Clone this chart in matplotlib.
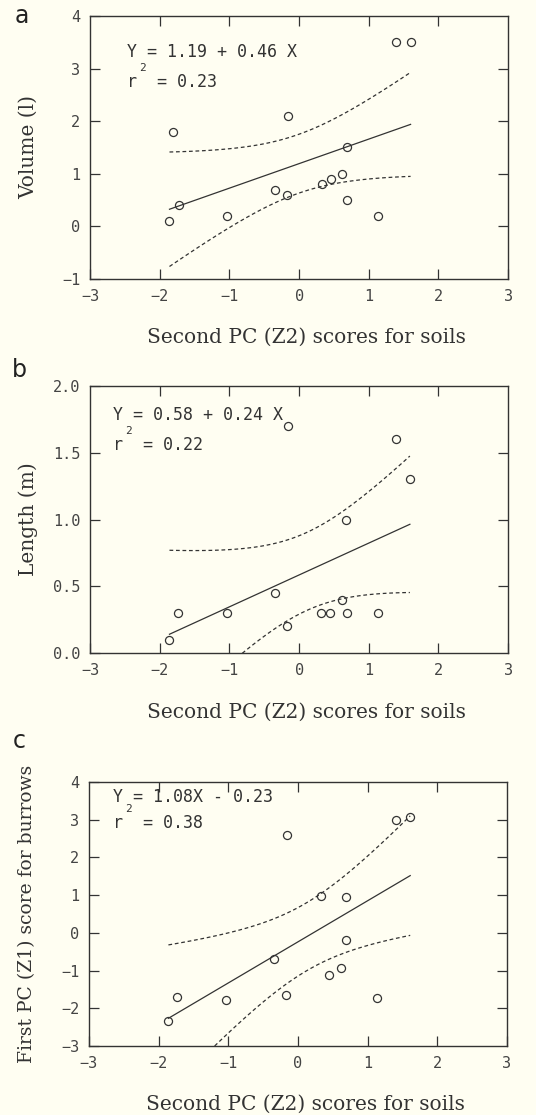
import numpy as np
import matplotlib
matplotlib.use("Agg")
import matplotlib.pyplot as plt

# soil PC2 scores (x) and burrow measures (y)
x_a = [-1.86, -1.81, -1.73, -1.03, -0.34, -0.165, -0.17, 0.33, 0.46, 0.62, 0.69, 0.69, 1.13, 1.39, 1.60]
volume = [0.1, 1.8, 0.4, 0.2, 0.7, 2.1, 0.6, 0.8, 0.9, 1.0, 1.5, 0.5, 0.2, 3.5, 3.5]

x_b = [-1.86, -1.74, -1.04, -0.35, -0.165, -0.18, 0.32, 0.45, 0.61, 0.67, 0.69, 1.13, 1.39, 1.59]
length = [0.1, 0.3, 0.3, 0.45, 1.7, 0.2, 0.3, 0.3, 0.4, 1.0, 0.3, 0.3, 1.6, 1.3]

x_c = [-1.86, -1.73, -1.03, -0.34, -0.16, -0.17, 0.33, 0.45, 0.62, 0.69, 0.69, 1.13, 1.40, 1.61]
z1 = [-2.34, -1.69, -1.78, -0.70, 2.60, -1.65, 0.98, -1.13, -0.92, 0.94, -0.20, -1.72, 2.98, 3.07]

eq_a = ["Y = 1.19 + 0.46 X", "r  = 0.23"]
eq_b = ["Y = 0.58 + 0.24 X", "r  = 0.22"]
eq_c = ["Y = 1.08X - 0.23", "r  = 0.38"]

# two-sided 95% t values for n-2 degrees of freedom
t95 = {13: 2.160, 12: 2.179}

bg = "#fffef2"
ink = "#333333"
mono = "DejaVu Sans Mono"
label_font = "DejaVu Serif"

fig = plt.figure(figsize=(5.36, 11.15), dpi=100, facecolor=bg)


def panel(rect, x, y, ylim, yticks, ylabel, eq, eqpos, letter, letterpos, ylabel_size=14.5):
    ax = fig.add_axes(rect, facecolor=bg)
    x = np.array(x)
    y = np.array(y)
    n = len(x)

    # least squares fit and 95% band for the mean
    b1, b0 = np.polyfit(x, y, 1)
    xs = np.linspace(x.min(), x.max(), 100)
    yhat = b0 + b1 * xs
    resid = y - (b0 + b1 * x)
    s = np.sqrt(np.sum(resid ** 2) / (n - 2))
    sxx = np.sum((x - x.mean()) ** 2)
    half = t95[n - 2] * s * np.sqrt(1.0 / n + (xs - x.mean()) ** 2 / sxx)

    ax.plot(xs, yhat, color=ink, lw=0.9)
    ax.plot(xs, yhat + half, color=ink, lw=0.9, ls=(0, (3, 2.2)))
    ax.plot(xs, yhat - half, color=ink, lw=0.9, ls=(0, (3, 2.2)))
    ax.plot(x, y, "o", mfc="none", mec=ink, mew=0.9, ms=5.8, clip_on=False)

    ax.set_xlim(-3, 3)
    ax.set_ylim(*ylim)
    ax.set_xticks(range(-3, 4))
    ax.set_xticklabels(["\u22123", "\u22122", "\u22121", "0", "1", "2", "3"])
    ax.set_yticks(yticks)
    ax.set_yticklabels([t.replace("-", "\u2212") for t in
                        [("%g" % v) if ylim[1] > 2 else ("%.1f" % v) for v in yticks]])
    ax.tick_params(direction="in", length=7, width=0.9, color=ink, top=True, right=True,
                   labelsize=11, labelcolor="#444444", pad=7)
    for lab in ax.get_xticklabels() + ax.get_yticklabels():
        lab.set_family(mono)
    # top/right ticks only inside the frame
    for t in ax.xaxis.get_major_ticks():
        if abs(t.get_loc()) == 3:
            t.tick2line.set_visible(False)
    for t in ax.yaxis.get_major_ticks():
        if t.get_loc() in ylim:
            t.tick2line.set_visible(False)
    for sp in ax.spines.values():
        sp.set_color(ink)
        sp.set_linewidth(1.0)

    ax.set_xlabel("Second PC (Z2) scores for soils", family=label_font, fontsize=14.5, color=ink)
    ax.xaxis.label.set_va("center")
    ax.xaxis.set_label_coords(0.517, -0.22)
    ax.set_ylabel(ylabel, family=label_font, fontsize=ylabel_size, color=ink)
    ax.yaxis.label.set_va("center")
    ax.yaxis.set_label_coords(-0.148, 0.5)

    ex, ey1, ey2 = eqpos
    ax.text(ex, ey1, eq[0], transform=ax.transAxes, family=mono, fontsize=12,
            color=ink, va="center")
    ax.text(ex, ey2, eq[1], transform=ax.transAxes, family=mono, fontsize=12,
            color=ink, va="center")
    ax.text(ex + 0.03, ey2 + 0.052, "2", transform=ax.transAxes, family=mono,
            fontsize=8, color=ink, va="center")

    fig.text(letterpos[0], letterpos[1], letter, fontsize=17, color="#222222",
             family="DejaVu Sans", ha="center", va="center")
    return ax


panel([0.168, 0.7498, 0.780, 0.2359], x_a, volume, (-1, 4), [-1, 0, 1, 2, 3, 4],
      "Volume (l)", eq_a, (0.088, 0.863, 0.749), "a", (0.041, 0.986))
panel([0.168, 0.4143, 0.780, 0.2395], x_b, length, (0, 2), [0.0, 0.5, 1.0, 1.5, 2.0],
      "Length (m)", eq_b, (0.055, 0.891, 0.779), "b", (0.037, 0.668))
panel([0.166, 0.0619, 0.780, 0.2368], x_c, z1, (-3, 4), [-3, -2, -1, 0, 1, 2, 3, 4],
      "First PC (Z1) score for burrows", eq_c, (0.057, 0.943, 0.845), "c", (0.035, 0.335),
      ylabel_size=13.5)

fig.savefig("out.png", dpi=100, facecolor=bg)
